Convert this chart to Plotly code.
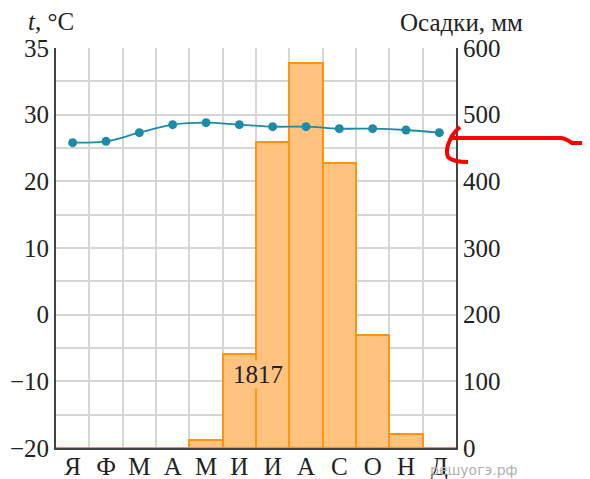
import plotly.graph_objects as go

months = ["Я", "Ф", "М", "А", "М", "И", "И", "А", "С", "О", "Н", "Д"]
precip_mm = [0, 0, 0, 0, 12, 141, 459, 577, 427, 170, 21, 0]
temp_c = [25.8, 26.0, 27.3, 28.5, 28.8, 28.5, 28.2, 28.2, 27.9, 27.9, 27.7, 27.3]
temp_ticks = [-20, -15, -10, -5, 0, 5, 10, 15, 20, 25, 30, 35, 40]
temp_ticktext = ["−20", "", "−10", "", "0", "", "10", "", "20", "", "30", "", "35"]
precip_ticks = [0, 100, 200, 300, 400, 500, 600]
annual_total = "1817"

xc = [i + 0.5 for i in range(len(months))]
font_serif = "Liberation Serif"
FS = 25

fig = go.Figure()
fig.add_trace(go.Bar(
    x=xc, y=precip_mm, width=1, yaxis="y",
    marker=dict(color="#ffc27f", line=dict(color="#ff9412", width=2)),
    hoverinfo="skip",
))
fig.add_trace(go.Scatter(
    x=xc, y=temp_c, yaxis="y2", mode="lines+markers",
    line=dict(color="#1f8aa8", width=1.8, shape="spline"),
    marker=dict(color="#1f8aa8", size=9),
    hoverinfo="skip",
))

fig.update_layout(
    width=590, height=479,
    margin=dict(l=48, r=142, t=40, b=39, autoexpand=False),
    paper_bgcolor="white", plot_bgcolor="white",
    showlegend=False, bargap=0,
    font=dict(family=font_serif, size=FS, color="#222"),
    xaxis=dict(
        range=[0, 12], tickvals=xc, ticktext=months, showgrid=False,
        zeroline=False, showline=True, linecolor="#444", linewidth=2,
        ticks="", tickfont=dict(size=FS), automargin=False,
        ticklabelstandoff=-5,
        minor=dict(tickvals=list(range(13)), showgrid=True,
                   gridcolor="#d6d6d6", gridwidth=1.5, ticks=""),
    ),
    yaxis=dict(
        range=[0, 600], side="right", tickvals=precip_ticks,
        showgrid=True, gridcolor="#d6d6d6", gridwidth=1.5,
        zeroline=False, showline=True, linecolor="#444", linewidth=2,
        ticks="", tickfont=dict(size=FS), automargin=False,
        minor=dict(tickvals=[50, 150, 250, 350, 450, 550], showgrid=True,
                   gridcolor="#d6d6d6", gridwidth=1.5, ticks=""),
    ),
    yaxis2=dict(
        range=[-20, 40], side="left", overlaying="y",
        tickvals=temp_ticks, ticktext=temp_ticktext, showgrid=False,
        zeroline=False, showline=True, linecolor="#444", linewidth=2,
        ticks="", tickfont=dict(size=FS), automargin=False,
    ),
)

# positions below are given in window pixels; plot area spans x 56..456, y 48..448
def px(x):
    return (x - 56) / 400

def py(y):
    return (448 - y) / 400

def label(text, x, y, **kw):
    fig.add_annotation(text=text, xref="paper", yref="paper", x=px(x), y=py(y),
                       xanchor="center", yanchor="middle", showarrow=False, **kw)

label("<i>t</i>, °C", 51, 21, font=dict(size=FS))
label("Осадки, мм", 462, 22, font=dict(size=FS))
label(annual_total, 258, 374, font=dict(size=FS), bgcolor="#ffc27f", borderpad=0)
label("решуогэ.рф", 474, 470,
      font=dict(family="DejaVu Sans", size=14, color="#b0b0b0"))

def p(x, y):
    return f"{px(x):.4f},{py(y):.4f}"

hook = f"M {p(460,127)} Q {p(452,134)} {p(450,140)} Q {p(445,150)} {p(448,157)} Q {p(453,162)} {p(468,162)}"
arrow = f"M {p(452,138)} L {p(560,138)} Q {p(565,138)} {p(572,143)} L {p(592,143)}"
for path in (hook, arrow):
    fig.add_shape(type="path", path=path, xref="paper", yref="paper",
                  line=dict(color="#ff0000", width=4), layer="above")

fig.write_html("out.html")
